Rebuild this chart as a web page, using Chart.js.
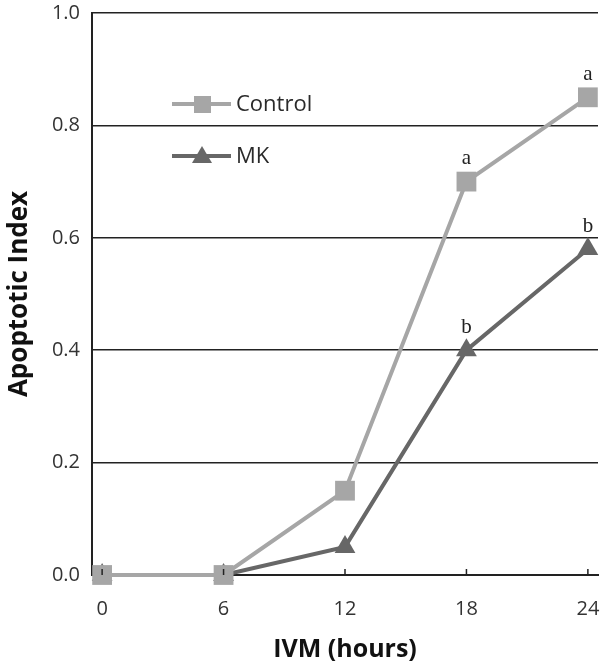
<!DOCTYPE html>
<html>
<head>
<meta charset="utf-8">
<script src="https://cdn.jsdelivr.net/npm/chart.js@4.4.1/dist/chart.umd.min.js"></script>
<style>
  html, body { margin: 0; padding: 0; background: #fff; }
  #wrap { width: 600px; height: 665px; }
</style>
</head>
<body>
<div id="wrap"><canvas id="chart"></canvas></div>
<script>
// IVM time points (hours) and apoptotic index per group
const hours = [0, 6, 12, 18, 24];
const controlValues = [0, 0, 0.15, 0.70, 0.85];
const mkValues = [0, 0, 0.05, 0.40, 0.58];
const controlLetters = ["", "", "", "a", "a"];
const mkLetters = ["", "", "", "b", "b"];
const yTicks = [0, 0.2, 0.4, 0.6, 0.8, 1.0];

const SANS = "'Open Sans', 'DejaVu Sans', sans-serif";
const CONTROL_COLOR = "#a6a6a6";
const MK_COLOR = "#676767";

function toPoints(values) {
    return hours.map((h, i) => ({ x: h, y: values[i] }));
}

// small inside tick marks on the x axis
const xTickMarks = {
    id: "xTickMarks",
    afterDraw(chart) {
        const { ctx, scales: { x }, chartArea } = chart;
        ctx.save();
        ctx.strokeStyle = "#222";
        ctx.lineWidth = 1.5;
        hours.forEach(h => {
            const px = x.getPixelForValue(h);
            ctx.beginPath();
            ctx.moveTo(px, chartArea.bottom);
            ctx.lineTo(px, chartArea.bottom - 6);
            ctx.stroke();
        });
        ctx.restore();
    },
};

// significance letters above the 18 h and 24 h points
const letters = {
    id: "letters",
    afterDatasetsDraw(chart) {
        const { ctx } = chart;
        ctx.save();
        ctx.font = "21px 'Liberation Serif', 'DejaVu Serif', serif";
        ctx.fillStyle = "#222";
        ctx.textAlign = "center";
        ctx.textBaseline = "middle";
        chart.data.datasets.forEach((ds, di) => {
            const meta = chart.getDatasetMeta(di);
            (ds.letters || []).forEach((t, i) => {
                if (!t) { return; }
                const pt = meta.data[i];
                ctx.fillText(t, pt.x, pt.y - 23);
            });
        });
        ctx.restore();
    },
};

// legend drawn inside the plot, upper left
const innerLegend = {
    id: "innerLegend",
    afterDatasetsDraw(chart) {
        const { ctx } = chart;
        const rows = [{ y: 104 }, { y: 156 }];
        ctx.save();
        chart.data.datasets.forEach((ds, i) => {
            const y = rows[i].y;
            ctx.strokeStyle = ds.borderColor;
            ctx.lineWidth = 4;
            ctx.beginPath();
            ctx.moveTo(172, y);
            ctx.lineTo(231, y);
            ctx.stroke();
            ctx.fillStyle = ds.borderColor;
            if (ds.pointStyle === "rect") {
                ctx.fillRect(194, y - 8, 17, 17);
            } else {
                ctx.beginPath();
                ctx.moveTo(202, y - 10);
                ctx.lineTo(212, y + 7);
                ctx.lineTo(192, y + 7);
                ctx.closePath();
                ctx.fill();
            }
            ctx.font = `22px ${SANS}`;
            ctx.fillStyle = "#2a2a2a";
            ctx.textAlign = "left";
            ctx.textBaseline = "middle";
            ctx.fillText(ds.label, 236, y + 1);
        });
        ctx.restore();
    },
};

new Chart(document.getElementById("chart"), {
    type: "line",
    data: {
        datasets: [
            {
                label: "Control",
                data: toPoints(controlValues),
                letters: controlLetters,
                borderColor: CONTROL_COLOR,
                backgroundColor: CONTROL_COLOR,
                borderWidth: 4,
                pointStyle: "rect",
                pointRadius: 14,
                pointBorderWidth: 0,
                tension: 0,
                clip: false,
            },
            {
                label: "MK",
                data: toPoints(mkValues),
                letters: mkLetters,
                borderColor: MK_COLOR,
                backgroundColor: MK_COLOR,
                borderWidth: 4,
                pointStyle: "triangle",
                pointRadius: 12,
                pointBorderWidth: 0,
                tension: 0,
                clip: false,
            },
        ],
    },
    options: {
        responsive: true,
        maintainAspectRatio: false,
        animation: false,
        events: [],
        layout: { autoPadding: false, padding: { top: 13, right: 2, left: 4, bottom: 0 } },
        plugins: { legend: { display: false }, tooltip: { enabled: false } },
        scales: {
            x: {
                type: "linear",
                min: -0.5,
                max: 24.5,
                afterBuildTicks: s => { s.ticks = hours.map(v => ({ value: v })); },
                afterFit: s => { s.height = 90; s.paddingLeft = 0; s.paddingRight = 0; },
                grid: { display: false },
                border: { display: true, color: "#222", width: 2 },
                ticks: {
                    color: "#333",
                    font: { family: SANS, size: 20 },
                    padding: 14,
                    maxRotation: 0,
                },
                title: {
                    display: true,
                    text: "IVM (hours)",
                    color: "#111",
                    font: { family: SANS, size: 25, weight: "bold" },
                    padding: { top: 4, bottom: 0 },
                },
            },
            y: {
                min: 0,
                max: 1,
                afterBuildTicks: s => { s.ticks = yTicks.map(v => ({ value: v })); },
                afterFit: s => { s.width = 88; s.paddingTop = 0; s.paddingBottom = 0; },
                grid: { color: "#222", lineWidth: 1.5, drawTicks: false },
                border: { display: true, color: "#222", width: 2 },
                ticks: {
                    color: "#333",
                    font: { family: SANS, size: 20 },
                    padding: 12,
                    callback: v => Number(v).toFixed(1),
                },
                title: {
                    display: true,
                    text: "Apoptotic Index",
                    color: "#111",
                    font: { family: SANS, size: 26, weight: "bold" },
                    padding: { top: 0, bottom: 6 },
                },
            },
        },
    },
    plugins: [xTickMarks, letters, innerLegend],
});
</script>
</body>
</html>
